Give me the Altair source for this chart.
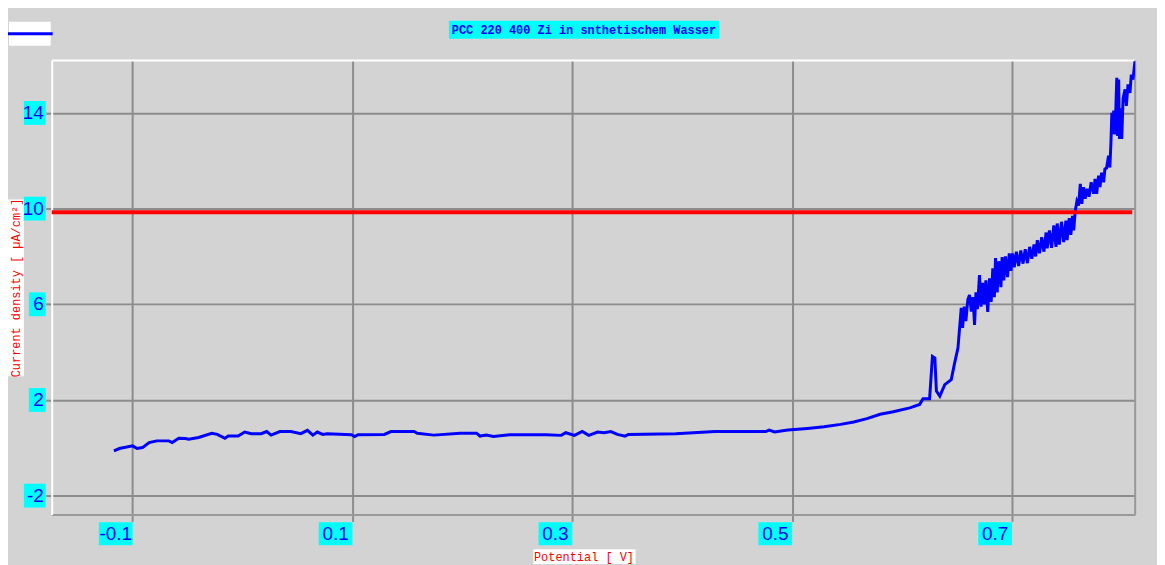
import altair as alt
import pandas as pd

# ---- data ----
potential_v = [
    -0.117, -0.112, -0.100, -0.096, -0.091, -0.085, -0.078, -0.067, -0.064, -0.058,
    -0.052, -0.049, -0.040, -0.028, -0.023, -0.016, -0.013, -0.004, 0.002, 0.008,
    0.017, 0.022, 0.026, 0.034, 0.044, 0.053, 0.059, 0.064, 0.068, 0.073,
    0.077, 0.099, 0.102, 0.105, 0.129, 0.135, 0.156, 0.159, 0.174, 0.198,
    0.213, 0.216, 0.222, 0.228, 0.243, 0.276, 0.290, 0.294, 0.302, 0.309,
    0.315, 0.323, 0.329, 0.335, 0.341, 0.348, 0.351, 0.394, 0.430, 0.476,
    0.479, 0.484, 0.496, 0.514, 0.529, 0.544, 0.556, 0.568, 0.580, 0.592,
    0.607, 0.616, 0.619, 0.625, 0.6276, 0.6298, 0.6312, 0.6343, 0.6388, 0.6447,
    0.6478, 0.6508, 0.6538, 0.6550, 0.6565, 0.6580, 0.6598, 0.6613, 0.6630, 0.6645,
    0.6659, 0.6672, 0.6685, 0.6704, 0.6718, 0.6732, 0.6748, 0.6762, 0.6779, 0.6795,
    0.6810, 0.6825, 0.6839, 0.6850, 0.6865, 0.6880, 0.6899, 0.6910, 0.6925, 0.6940,
    0.6959, 0.6975, 0.6990, 0.7005, 0.7020, 0.7040, 0.7060, 0.7080, 0.7100, 0.7120,
    0.7140, 0.7160, 0.7180, 0.7200, 0.7215, 0.7230, 0.7250, 0.7270, 0.7290, 0.7310,
    0.7320, 0.7340, 0.7360, 0.7380, 0.7400, 0.7411, 0.7430, 0.7450, 0.7470, 0.7490,
    0.7501, 0.7520, 0.7535, 0.7550, 0.7561, 0.7575, 0.7590, 0.7605, 0.7621, 0.7635,
    0.7650, 0.7665, 0.7682, 0.7700, 0.7720, 0.7742, 0.7755, 0.7770, 0.7787, 0.7800,
    0.7815, 0.7833, 0.7845, 0.7860, 0.7878, 0.7890, 0.7900, 0.7908, 0.7915, 0.7925,
    0.7937, 0.7945, 0.7953, 0.7960, 0.7970, 0.7977, 0.7990, 0.7998, 0.8010, 0.8028,
    0.8040, 0.8055, 0.8073, 0.8085, 0.8100, 0.8118,
]
current_density = [
    -0.13, -0.03, 0.08, -0.03, 0.01, 0.22, 0.29, 0.29, 0.22, 0.40,
    0.39, 0.36, 0.43, 0.61, 0.56, 0.40, 0.49, 0.49, 0.66, 0.59,
    0.59, 0.68, 0.53, 0.68, 0.68, 0.59, 0.73, 0.53, 0.66, 0.56,
    0.59, 0.55, 0.47, 0.55, 0.56, 0.68, 0.68, 0.61, 0.53, 0.61,
    0.61, 0.49, 0.53, 0.47, 0.55, 0.55, 0.52, 0.63, 0.52, 0.68,
    0.52, 0.66, 0.63, 0.68, 0.56, 0.49, 0.56, 0.59, 0.68, 0.68,
    0.74, 0.66, 0.74, 0.81, 0.88, 0.98, 1.08, 1.22, 1.40, 1.51,
    1.67, 1.81, 2.05, 2.05, 3.82, 3.75, 2.37, 2.16, 2.64, 2.85,
    3.55, 4.17, 5.85, 5.01, 5.90, 5.30, 6.20, 6.39, 5.70, 6.30,
    5.14, 6.50, 5.80, 7.22, 5.90, 6.90, 6.00, 7.00, 5.68, 7.09,
    6.10, 7.50, 6.30, 7.93, 6.50, 7.80, 6.72, 7.97, 7.00, 8.00,
    7.14, 8.13, 7.40, 8.13, 7.55, 8.20, 7.60, 8.25, 7.70, 8.30,
    7.72, 8.40, 7.90, 8.50, 8.00, 8.68, 8.13, 8.80, 8.20, 9.00,
    8.34, 9.09, 8.36, 9.30, 8.40, 9.38, 8.50, 9.45, 8.60, 9.50,
    8.68, 9.60, 8.90, 9.70, 9.09, 9.90, 10.30, 10.13, 11.03, 10.20,
    10.90, 10.41, 10.83, 10.50, 11.10, 10.62, 11.24, 10.62, 11.38, 10.90,
    11.50, 11.10, 11.66, 11.70, 12.21, 11.72, 12.80, 14.01, 13.11, 14.10,
    13.10, 14.29, 15.47, 13.04, 15.40, 12.91, 14.20, 12.91, 14.60, 14.99,
    14.30, 15.20, 14.84, 15.60, 15.40, 16.16,
]
limit_value = [9.85]
x_ticks = [-0.1, 0.1, 0.3, 0.5, 0.7]
x_tick_labels = ["-0.1", "0.1", "0.3", "0.5", "0.7"]
y_ticks = [14, 10, 6, 2, -2]
y_tick_labels = ["14", "10", "6", "2", "-2"]
x_domain = [-0.1736, 0.812]
y_domain = [-2.785, 16.19]

title_text = "PCC 220 400 Zi in snthetischem Wasser"
x_title = "Potential [ V]"
y_title = "Current density [ µA/cm²]"

W, H = 1091, 457
BLUE = "#0000ff"
CYAN = "#00ffff"
GRID = "#8c8c8c"
BG = "#d3d3d3"

curve = pd.DataFrame({"v": potential_v, "i": current_density})
xt = pd.DataFrame({"v": x_ticks, "label": x_tick_labels})
yt = pd.DataFrame({"i": y_ticks, "label": y_tick_labels})
lim = pd.DataFrame({"i": limit_value})
one = pd.DataFrame({"k": [0]})

xscale = alt.Scale(domain=x_domain, nice=False, zero=False)
yscale = alt.Scale(domain=y_domain, nice=False, zero=False)

xaxis = alt.Axis(values=x_ticks, grid=True, gridColor=GRID, gridWidth=2,
                 tickColor=GRID, tickWidth=2, tickSize=7, labels=False, title=None,
                 domainColor="#999999", domainWidth=2)
yaxis = alt.Axis(values=y_ticks, grid=True, gridColor=GRID, gridWidth=2,
                 tickColor=GRID, tickWidth=2, tickSize=6, labels=False, title=None,
                 domainColor="#ffffff", domainWidth=2)

line = alt.Chart(curve).mark_line(color=BLUE, strokeWidth=3, clip=True).encode(
    x=alt.X("v:Q", scale=xscale, axis=xaxis),
    y=alt.Y("i:Q", scale=yscale, axis=yaxis),
    order=alt.Order("v:Q"),
)

red = alt.Chart(lim).mark_rule(color="#ff0000", strokeWidth=4).encode(
    y=alt.Y("i:Q", scale=yscale), x=alt.value(0), x2=alt.value(1088)
)

# borders: top white, right gray
top_border = alt.Chart(one).mark_rule(color="#ffffff", strokeWidth=2).encode(
    x=alt.value(0), x2=alt.value(W), y=alt.value(0))
right_border = alt.Chart(one).mark_rule(color="#999999", strokeWidth=2).encode(
    x=alt.value(W), y=alt.value(0), y2=alt.value(H))

# x tick label boxes and text
xbox = alt.Chart(xt).mark_rect(color=CYAN, xOffset=-34, x2Offset=0).encode(
    x=alt.X("v:Q", scale=xscale), x2="v:Q", y=alt.value(465), y2=alt.value(488))
xtxt = alt.Chart(xt).mark_text(color=BLUE, font="Liberation Sans", fontSize=19,
                               align="center", baseline="middle", dx=-17).encode(
    x=alt.X("v:Q", scale=xscale), y=alt.value(477), text="label:N")

ybox2 = alt.Chart(yt).transform_filter("length(datum.label) == 2").mark_rect(
    color=CYAN, yOffset=-12, y2Offset=12).encode(
    y=alt.Y("i:Q", scale=yscale), y2="i:Q", x=alt.value(-28), x2=alt.value(-6))
ybox1 = alt.Chart(yt).transform_filter("length(datum.label) == 1").mark_rect(
    color=CYAN, yOffset=-12, y2Offset=12).encode(
    y=alt.Y("i:Q", scale=yscale), y2="i:Q", x=alt.value(-23), x2=alt.value(-6))
ytxt = alt.Chart(yt).mark_text(color=BLUE, font="Liberation Sans", fontSize=19,
                               align="right", baseline="middle").encode(
    y=alt.Y("i:Q", scale=yscale), x=alt.value(-8), text="label:N")

# title
tbox = alt.Chart(one).mark_rect(color=CYAN).encode(
    x=alt.value(400), x2=alt.value(672), y=alt.value(-40), y2=alt.value(-22))
ttxt = alt.Chart(one).mark_text(text=title_text, color=BLUE, font="Liberation Mono",
                                fontSize=12, fontWeight="bold", align="center",
                                baseline="middle").encode(
    x=alt.value(536), y=alt.value(-31))

# axis titles
xtbox = alt.Chart(one).mark_rect(color="#ffffff").encode(
    x=alt.value(485), x2=alt.value(588), y=alt.value(492), y2=alt.value(507))
xttxt = alt.Chart(one).mark_text(text=x_title, color="#ff0000", font="Liberation Mono",
                                 fontSize=12, align="center", baseline="middle").encode(
    x=alt.value(536), y=alt.value(499.5))
ytbox = alt.Chart(one).mark_rect(color="#ffffff").encode(
    x=alt.value(-44), x2=alt.value(-28), y=alt.value(140), y2=alt.value(318))
yttxt = alt.Chart(one).mark_text(text=y_title, color="#ff0000", font="Liberation Mono",
                                 fontSize=12, align="center", baseline="middle",
                                 angle=270).encode(
    x=alt.value(-36), y=alt.value(229))

# legend
lbox = alt.Chart(one).mark_rect(color="#ffffff").encode(
    x=alt.value(-43), x2=alt.value(-1), y=alt.value(-39), y2=alt.value(-15))
lline = alt.Chart(one).mark_rule(color=BLUE, strokeWidth=3).encode(
    x=alt.value(-44), x2=alt.value(1), y=alt.value(-27))

chart = alt.layer(
    xbox, ybox2, ybox1, xtxt, ytxt, top_border, right_border,
    line, red, tbox, ttxt, xtbox, xttxt, ytbox, yttxt, lbox, lline,
).properties(
    width=W, height=H,
    autosize=alt.AutoSizeParams(type="none"),
    padding={"left": 44, "top": 51, "right": 22, "bottom": 49},
    background=BG,
).configure_view(strokeWidth=0)

chart.save("out.html", embed_options={"renderer": "svg", "actions": False})
